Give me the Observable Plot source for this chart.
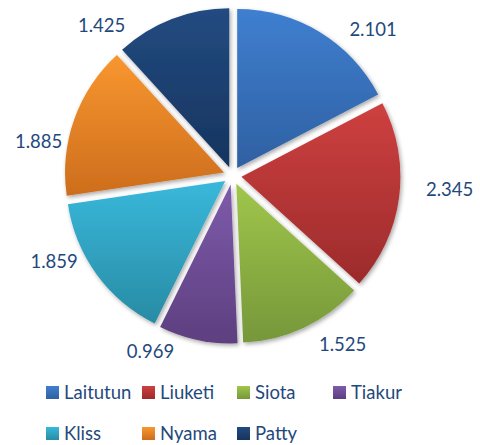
<!DOCTYPE html>
<html>
<head>
<meta charset="utf-8">
<script src="https://cdn.jsdelivr.net/npm/d3@7"></script>
<script src="https://cdn.jsdelivr.net/npm/@observablehq/plot@0.6"></script>
<style>
  html, body { margin: 0; padding: 0; background: #fff; }
  #chart { width: 480px; }
  .legend { width: 480px; height: 75px; box-sizing: border-box; padding: 10px 0 0 46px;
            display: grid; grid-template-columns: 96px 95px 96px 96px; row-gap: 17px;
            font-family: Lato, "Open Sans", sans-serif; font-size: 18.5px; color: #1f497d; }
  .item { display: flex; align-items: center; height: 24px; white-space: nowrap; }
  .sw { width: 13px; height: 13px; margin-right: 5px; flex: none; }
</style>
</head>
<body>
<div id="chart"></div>
<script>
// ---- data ----
const categories = ["Laitutun", "Liuketi", "Siota", "Tiakur", "Kliss", "Nyama", "Patty"];
const values = [2.101, 2.345, 1.525, 0.969, 1.859, 1.885, 1.425];
const valueLabels = ["2.101", "2.345", "1.525", "0.969", "1.859", "1.885", "1.425"];

// ---- styles / layout ----
const colorTop = ["#3f7fd0", "#ce4040", "#a0c64b", "#7e5bab", "#39b8db", "#f8972f", "#234b81"];
const colorBottom = ["#2f60a2", "#9c2b2b", "#76973a", "#5d3f7f", "#288ba4", "#cd6d1d", "#16345e"];
const labelShiftDeg = [12.5, -3.6, -7.85, 13.2, 10.25, -9.8, -20.1];
const labelRadius = [1.274, 1.365, 1.266, 1.222, 1.25, 1.241, 1.253];
const explode = 0.0566;   // fraction of radius

const W = 480, H = 370;
const Rpx = 159, CX = 232.5, CY = 175.6;

const pie = d3.pie().sort(null).value(d => d.value).startAngle(0).endAngle(2 * Math.PI);
const rows = categories.map((c, i) => ({category: c, value: values[i], label: valueLabels[i], i}));
const arcs = pie(rows);
const labelData = arcs.map((a, i) => {
  const mid = (a.startAngle + a.endAngle) / 2 + labelShiftDeg[i] * Math.PI / 180;
  return {label: a.data.label, x: labelRadius[i] * Math.sin(mid), y: labelRadius[i] * Math.cos(mid)};
});

function pieMark(index, scales) {
  const {x, y} = scales;
  const cx = x(0), cy = y(0), r = x(1) - x(0);
  const g = d3.create("svg:g");
  const defs = g.append("defs");
  const f = defs.append("filter").attr("id", "shadow").attr("x", "-20%").attr("y", "-20%")
    .attr("width", "140%").attr("height", "140%");
  f.append("feDropShadow").attr("dx", 1.5).attr("dy", 2).attr("stdDeviation", 2)
    .attr("flood-color", "#000").attr("flood-opacity", 0.35);
  arcs.forEach((a, i) => {
    const gr = defs.append("linearGradient").attr("id", "grad" + i)
      .attr("x1", 0).attr("y1", 0).attr("x2", 0).attr("y2", 1);
    gr.append("stop").attr("offset", "0%").attr("stop-color", colorTop[i]);
    gr.append("stop").attr("offset", "100%").attr("stop-color", colorBottom[i]);
  });
  const arc = d3.arc().innerRadius(0).outerRadius(r);
  g.selectAll("path").data(arcs).join("path")
    .attr("d", arc)
    .attr("transform", a => {
      const mid = (a.startAngle + a.endAngle) / 2;
      const ox = cx + explode * r * Math.sin(mid);
      const oy = cy - explode * r * Math.cos(mid);
      return `translate(${ox},${oy})`;
    })
    .attr("fill", (a, i) => `url(#grad${i})`)
    .attr("filter", "url(#shadow)");
  return g.node();
}

const chart = Plot.plot({
  width: W,
  height: H,
  margin: 0,
  x: {domain: [-CX / Rpx, (W - CX) / Rpx], range: [0, W], axis: null},
  y: {domain: [CY / Rpx, (CY - H) / Rpx], range: [0, H], axis: null},
  style: {fontFamily: "Lato, 'Open Sans', sans-serif", background: "#fff", overflow: "visible"},
  marks: [
    pieMark,
    Plot.text(labelData, {x: "x", y: "y", text: "label", fill: "#1f497d", fontSize: 18.5,
      textAnchor: "middle", lineAnchor: "middle"})
  ]
});
document.getElementById("chart").appendChild(chart);

// legend
const legend = d3.select("body").append("div").attr("class", "legend");
categories.forEach((c, i) => {
  const it = legend.append("div").attr("class", "item");
  it.append("div").attr("class", "sw")
    .style("background", `linear-gradient(${colorTop[i]}, ${colorBottom[i]})`);
  it.append("span").text(c);
});
</script>
</body>
</html>
